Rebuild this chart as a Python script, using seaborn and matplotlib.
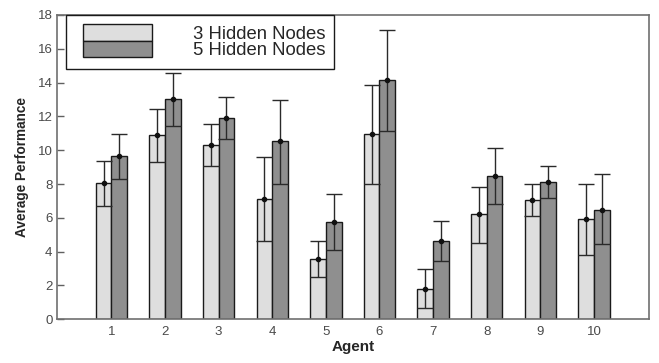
import matplotlib
matplotlib.use("Agg")
import matplotlib.pyplot as plt
import matplotlib.patches as mpatches
from matplotlib.legend_handler import HandlerPatch
import numpy as np
import pandas as pd
import seaborn as sns

agents = ["1", "2", "3", "4", "5", "6", "7", "8", "9", "10"]
series_names = ["3 Hidden Nodes", "5 Hidden Nodes"]
mean3 = [8.05, 10.90, 10.30, 7.12, 3.59, 10.95, 1.79, 6.21, 7.06, 5.93]
low3 = [6.70, 9.33, 9.05, 4.62, 2.50, 8.02, 0.65, 4.53, 6.13, 3.79]
high3 = [9.38, 12.42, 11.56, 9.59, 4.62, 13.88, 2.96, 7.85, 8.02, 8.02]
mean5 = [9.68, 13.02, 11.91, 10.53, 5.76, 14.14, 4.62, 8.50, 8.14, 6.49]
low5 = [8.30, 11.44, 10.65, 8.03, 4.10, 11.16, 3.45, 6.82, 7.15, 4.44]
high5 = [10.98, 14.56, 13.15, 13.00, 7.40, 17.14, 5.80, 10.14, 9.05, 8.58]
y_ticks = [0, 2, 4, 6, 8, 10, 12, 14, 16, 18]

light = "#dedede"
dark = "#8f8f8f"

sns.set_style("white")
plt.rcParams["font.family"] = ["Liberation Sans", "DejaVu Sans"]

df = pd.DataFrame({
    "Agent": agents * 2,
    "Performance": mean3 + mean5,
    "Config": [series_names[0]] * len(agents) + [series_names[1]] * len(agents),
})

fig = plt.figure(figsize=(6.59, 3.63), dpi=100)
ax = fig.add_axes([0.086, 0.1204, 0.899, 0.8383])

sns.barplot(data=df, x="Agent", y="Performance", hue="Config",
            order=agents, hue_order=series_names,
            palette=[light, dark], width=0.585, errorbar=None,
            edgecolor="#1a1a1a", linewidth=1.0, saturation=1, legend=False, ax=ax)

for cont, means, lows, highs in zip(ax.containers, [mean3, mean5], [low3, low5], [high3, high5]):
    xs = [b.get_x() + b.get_width() / 2 for b in cont]
    m = np.array(means)
    yerr = [m - np.array(lows), np.array(highs) - m]
    ax.errorbar(xs, m, yerr=yerr, fmt="o", ms=3, color="#111111",
                ecolor="#2a2a2a", elinewidth=1.0, capsize=5.5, capthick=1.0, zorder=5)

ax.set_xlim(-1.02, 10.03)
ax.set_ylim(0, 18)
ax.set_yticks(y_ticks)
ax.set_yticklabels([str(t) for t in y_ticks])
ax.tick_params(axis="y", direction="in", length=5, width=1, color="#606060",
               labelsize=9.5, labelcolor="#4a4a4a", pad=3, left=True)
ax.tick_params(axis="x", length=0, labelsize=9.5, labelcolor="#4a4a4a", pad=5)
for s in ax.spines.values():
    s.set_color("#707070")
    s.set_linewidth(1.2)
    s.set_visible(True)

ax.set_xlabel("Agent", fontsize=11, fontweight="bold", labelpad=1)
ax.set_ylabel("Average Performance", fontsize=9.8, fontweight="bold", labelpad=6)


def make_rect(legend, orig_handle, xdescent, ydescent, width, height, fontsize):
    off = 8 * 72 / 100.0
    return mpatches.Rectangle((-xdescent + off, -ydescent), width - off, height)


handles = [mpatches.Patch(facecolor=light, edgecolor="#1a1a1a", linewidth=1.0),
           mpatches.Patch(facecolor=dark, edgecolor="#1a1a1a", linewidth=1.0)]
leg = ax.legend(handles, series_names, loc="upper left", bbox_to_anchor=(0.0157, 1.0),
                borderaxespad=0, fontsize=13.3, handlelength=4.16, handleheight=1.0,
                labelspacing=-0.105, handletextpad=2.2, borderpad=0.5, fancybox=False,
                framealpha=1, edgecolor="#1a1a1a",
                handler_map={mpatches.Patch: HandlerPatch(patch_func=make_rect)})
leg.get_frame().set_linewidth(1.0)

fig.savefig("out.png", dpi=100)
